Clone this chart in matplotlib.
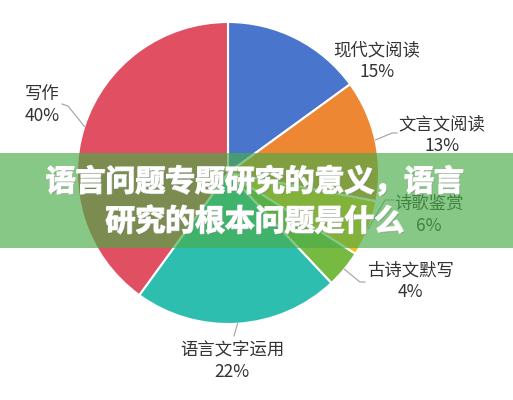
import matplotlib
matplotlib.use('Agg')
import matplotlib.pyplot as plt
import matplotlib.patheffects as pe
from matplotlib.patches import Rectangle
import numpy as np

plt.rcParams['font.family'] = ['Noto Sans CJK SC', 'DejaVu Sans']

# data
names = ['现代文阅读', '文言文阅读', '诗歌鉴赏', '古诗文默写', '语言文字运用', '写作']
values = [15, 13, 6, 4, 22, 40]
colors = ['#4A75CD', '#EE8733', '#F2BE1C', '#76BA42', '#2DBEAF', '#E04F62']
title = '语言问题专题研究的意义，语言\n研究的根本问题是什么'

# layout (pixels, y from top)
W, H = 513, 400
cx, cy, R = 228, 173, 151
label_pos = [(377, 61), (442, 135), (429, 215), (410, 281), (232, 361), (42, 105)]
knees = [(372, 80), (392, 133), (385, 200), (360, 282), (234, 336), (68, 106)]
tails = [(372, 80), (397, 133), (394, 200), (365, 282), (234, 336), (62, 104)]

fig = plt.figure(figsize=(W / 100, H / 100), dpi=100)
ax = fig.add_axes([0, 0, 1, 1])

# y axis runs downward, so start at -90 and go "counterclock" in data = clockwise on screen
wedges, _ = ax.pie(values, colors=colors, startangle=-90, counterclock=True,
                   center=(cx, cy), radius=R, frame=True,
                   wedgeprops=dict(edgecolor='white', linewidth=1.5))
ax.set_xlim(0, W)
ax.set_ylim(H, 0)
ax.set_aspect('equal')
ax.axis('off')

for i, w in enumerate(wedges):
    mid = np.deg2rad((w.theta1 + w.theta2) / 2)
    ex = cx + R * np.cos(mid)
    ey = cy + R * np.sin(mid)
    if names[i] != '现代文阅读':
        kx, ky = knees[i]
        tx, ty = tails[i]
        ax.plot([ex, kx, tx], [ey, ky, ty], color='#A0A0A0', lw=0.8, zorder=3)
    lx, ly = label_pos[i]
    ax.text(lx, ly, names[i] + '\n' + str(values[i]) + '%', ha='center', va='center',
            fontsize=12.5, color='#333333', linespacing=1.25, zorder=4)

# banner
ax.add_patch(Rectangle((0, 153), W, 95, facecolor=(73/255, 172/255, 73/255),
                       alpha=0.66, edgecolor='none', zorder=5))
ax.text(255, 202, title, ha='center', va='center', fontsize=21.5,
        fontweight='black', color='white', linespacing=1.4, zorder=6,
        path_effects=[pe.withStroke(linewidth=1.2, foreground='white'),
                      pe.withSimplePatchShadow(offset=(0.8, -0.8), shadow_rgbFace='#3a5a3a', alpha=0.35),
                      pe.Normal()])

fig.savefig('out.png', dpi=100)
